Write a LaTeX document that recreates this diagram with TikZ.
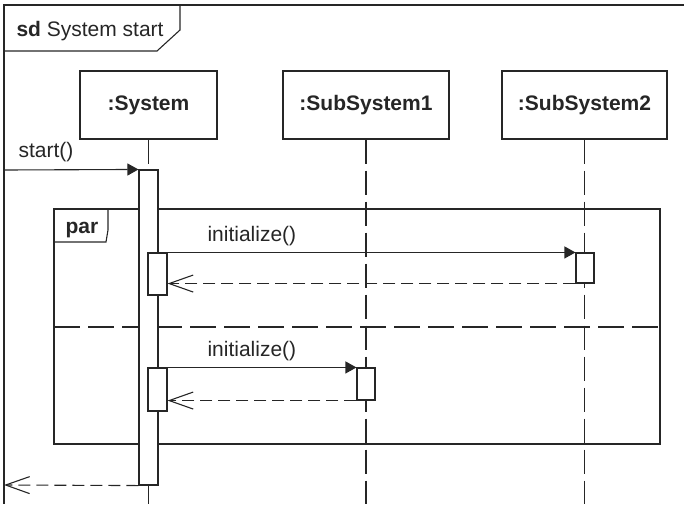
\documentclass[tikz,border=0pt]{standalone}
\usepackage{fontspec}
\setmainfont{Liberation Sans}
\usetikzlibrary{arrows.meta}
\begin{document}
\begin{tikzpicture}[x=1pt, y=-1pt, line width=1.1pt, color=black!85,
        font=\fontsize{21}{25}\selectfont,
        caja/.style={draw, fill=white, minimum height=68pt, inner sep=0pt, font=\fontsize{21}{25}\selectfont\bfseries},
        barra/.style={draw, fill=white, minimum width=19pt, inner sep=0pt},
        texto/.style={anchor=base west, inner sep=0pt},
        vida/.style={dash pattern=on 24pt off 7pt},
        llamada/.style={-{Triangle[length=11pt,width=12pt]}},
        retorno/.style={-{Straight Barb[length=24pt,width=17pt]}, dash pattern=on 12pt off 6pt},
        separador/.style={dash pattern=on 26pt off 8pt}]
        \useasboundingbox (0,0) rectangle (684,504);
        % marco del diagrama
        \draw (684,5) -- (4,5) -- (4,504);
        \draw (4,51) -- (157,51) -- (180,30) -- (180,5);
        \node[texto] (titulo) at (16,36) {\textbf{sd} System start};
        \coordinate (entrada) at (4,170);
        \coordinate (salida) at (4,485);
        % cabeceras y lineas de vida
        \node[caja, minimum width=137pt] (sys) at (148.5,105) {:System};
        \node[caja, minimum width=166pt] (sub1) at (366,105) {:SubSystem1};
        \node[caja, minimum width=165pt] (sub2) at (584.5,105) {:SubSystem2};
        \draw[vida] (sys.south) -- (sys.south |- 0,504);
        \draw[vida] (sub1.south) -- (sub1.south |- 0,504);
        \draw[vida] (sub2.south) -- (sub2.south |- 0,504);
        % fragmento par
        \draw (54,209) rectangle (660,444);
        \draw (54,242) -- (106,242) -- (108,230) -- (108,209);
        \node[texto] (par) at (65,233) {\textbf{par}};
        \draw[separador] (54,327) -- (660,327);
        % activaciones
        \node[barra, minimum height=315pt] (a0) at (148.5,327.5) {};
        \node[barra, minimum height=42pt] (a1) at (157.5,274) {};
        \node[barra, minimum width=18pt, minimum height=30pt] (b1) at (585,268) {};
        \node[barra, minimum height=43pt] (a2) at (157.5,389.5) {};
        \node[barra, minimum width=18pt, minimum height=32pt] (c1) at (366,384) {};
        % mensajes
        \draw[llamada] (entrada) -- (a0.north west);
        \node[texto] (m0) at (18,157) {start()};
        \draw[llamada] (a1.north east) -- (b1.north west);
        \node[texto] (m1) at (207,241) {initialize()};
        \draw[retorno] (b1.south west) -- (b1.south west -| a1.east);
        \draw[llamada] (a2.north east) -- (c1.north west);
        \node[texto] (m2) at (207,356) {initialize()};
        \draw[retorno] (c1.south west) -- (c1.south west -| a2.east);
        \draw[retorno] (a0.south west) -- (salida);
\end{tikzpicture}
\end{document}
